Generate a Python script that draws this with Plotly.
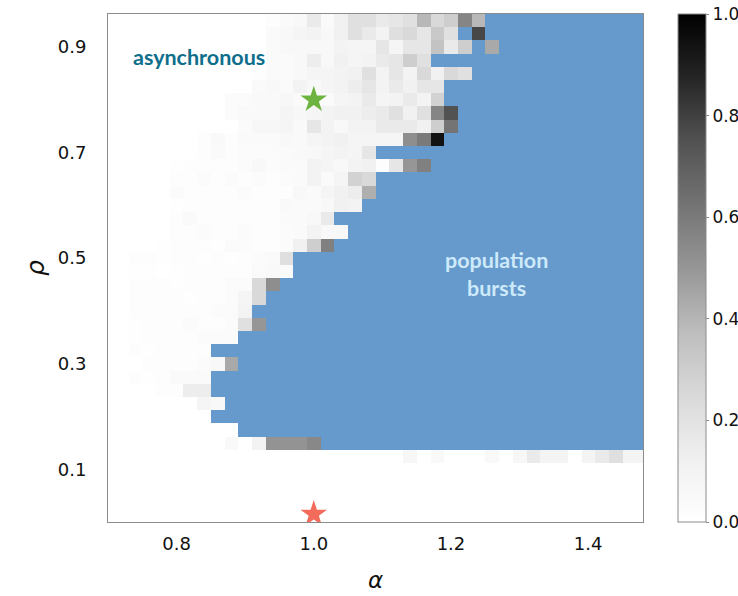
import plotly.graph_objects as go

B = None  # population-burst cell (shown in blue)

alpha = [0.70, 0.72, 0.74, 0.76, 0.78, 0.80, 0.82, 0.84, 0.86, 0.88,
         0.90, 0.92, 0.94, 0.96, 0.98, 1.00, 1.02, 1.04, 1.06, 1.08,
         1.10, 1.12, 1.14, 1.16, 1.18, 1.20, 1.22, 1.24, 1.26, 1.28,
         1.30, 1.32, 1.34, 1.36, 1.38, 1.40, 1.42, 1.44, 1.46, 1.48]

rho = [0.950, 0.925, 0.900, 0.875, 0.850, 0.825, 0.800, 0.775, 0.750, 0.725,
       0.700, 0.675, 0.650, 0.625, 0.600, 0.575, 0.550, 0.525, 0.500, 0.475,
       0.450, 0.425, 0.400, 0.375, 0.350, 0.325, 0.300, 0.275, 0.250, 0.225,
       0.200, 0.175, 0.150, 0.125]

# rows from top (rho = 0.95) to bottom (rho = 0.125); 40 columns each
sync = [
    [0]*12 + [0.02, 0.04, 0.06, 0.16, 0.04, 0.12, 0.21, 0.21, 0.16, 0.18, 0.21, 0.39, 0.25, 0.30, 0.56, 0.39] + [B]*12,
    [0]*12 + [0.04, 0.06, 0.08, 0.10, 0.06, 0.12, 0.21, 0.16, 0.10, 0.22, 0.25, 0.18, 0.32, 0.21, B, 0.78] + [B]*12,
    [0]*12 + [0.04, 0.06, 0.06, 0.06, 0.06, 0.10, 0.08, 0.08, 0.18, 0.08, 0.18, 0.18, 0.35, 0.16, 0.30, B, 0.44] + [B]*11,
    [0]*12 + [0.04, 0.04, 0.06, 0.14, 0.06, 0.12, 0.08, 0.10, 0.16, 0.18, 0.30, 0.21] + [B]*16,
    [0]*11 + [0.02, 0.04, 0.04, 0.06, 0.08, 0.08, 0.10, 0.12, 0.21, 0.10, 0.18, 0.10, 0.25, 0.12, 0.25, 0.21] + [B]*13,
    [0]*11 + [0.04, 0.06, 0.04, 0.10, 0.06, 0.08, 0.10, 0.14, 0.18, 0.10, 0.16, 0.12, 0.18, 0.18] + [B]*15,
    [0]*9 + [0.03, 0.03, 0.05, 0.05, 0.07, 0.04, 0.04, 0.04, 0.08, 0.10, 0.16, 0.08, 0.10, 0.16, 0.10, 0.28] + [B]*15,
    [0]*9 + [0.03, 0.05, 0.05, 0.05, 0.08, 0.07, 0.08, 0.10, 0.12, 0.12, 0.14, 0.16, 0.21, 0.12, 0.21, 0.56, 0.75] + [B]*14,
    [0]*10 + [0.03, 0.07, 0.07, 0.08, 0.05, 0.18, 0.10, 0.06, 0.10, 0.10, 0.16, 0.16, 0.16, 0.12, 0.30, 0.62] + [B]*14,
    [0]*7 + [0.02, 0.05, 0.02, 0.04, 0.04, 0.04, 0.06, 0.05, 0.08, 0.10, 0.12, 0.08, 0.08, 0.08, 0.08, 0.53, 0.60, 0.94] + [B]*15,
    [0]*7 + [0.02, 0.04, 0.02, 0.03, 0.03, 0.04, 0.04, 0.05, 0.06, 0.08, 0.10, 0.08, 0.18] + [B]*20,
    [0]*5 + [0.01, 0.02, 0.02, 0.02, 0.02, 0.03, 0.06, 0.03, 0.04, 0.04, 0.10, 0.08, 0.06, 0.10, 0.12, 0.02, 0.18, 0.50, 0.58] + [B]*16,
    [0]*5 + [0.02, 0.02, 0.03, 0.02, 0.03, 0.02, 0.03, 0.02, 0.03, 0.04, 0.10, 0.04, 0.08, 0.28, 0.25] + [B]*20,
    [0]*5 + [0.03, 0.02, 0.02, 0.02, 0.02, 0.03, 0.02, 0.02, 0.02, 0.06, 0.04, 0.08, 0.12, 0.14, 0.42] + [B]*20,
    [0]*5 + [0.01, 0.02, 0.02, 0.02, 0.02, 0.02, 0.02, 0.02, 0.05, 0.04, 0.04, 0.06, 0.12, 0.10] + [B]*21,
    [0]*5 + [0.02, 0.04, 0.02, 0.02, 0.02, 0.02, 0.02, 0.02, 0.04, 0.04, 0.06, 0.16] + [B]*23,
    [0]*5 + [0.02, 0.02, 0.03, 0.02, 0.02, 0.03, 0.02, 0.02, 0.03, 0.04, 0.10, 0.06, 0.06] + [B]*22,
    [0]*4 + [0.01, 0.02, 0.02, 0.02, 0.01, 0.03, 0.03, 0.02, 0.02, 0.03, 0.12, 0.30, 0.58] + [B]*23,
    [0]*2 + [0.02, 0.02, 0.01, 0.02, 0.02, 0.01, 0.02, 0.01, 0.02, 0.03, 0.04, 0.22] + [B]*26,
    [0]*2 + [0.01, 0.01, 0.00, 0.01, 0.02, 0.02, 0.02, 0.02, 0.02, 0.04, 0.05, 0.04] + [B]*26,
    [0]*2 + [0.02, 0.02, 0.02, 0.01, 0.02, 0.02, 0.02, 0.03, 0.03, 0.25, 0.53] + [B]*27,
    [0]*2 + [0.02, 0.02, 0.02, 0.02, 0.01, 0.02, 0.02, 0.03, 0.08, 0.25] + [B]*28,
    [0]*2 + [0.02, 0.02, 0.02, 0.02, 0.02, 0.02, 0.03, 0.04, 0.10] + [B]*29,
    [0]*2 + [0.01, 0.02, 0.02, 0.02, 0.03, 0.02, 0.02, 0.03, 0.21, 0.50] + [B]*28,
    [0]*2 + [0.01, 0.02, 0.02, 0.02, 0.02, 0.03, 0.03, 0.03] + [B]*30,
    [0]*2 + [0.02, 0.01, 0.02, 0.02, 0.02, 0.02] + [B]*32,
    [0]*3 + [0.02, 0.02, 0.02, 0.02, 0.03, 0.06, 0.44] + [B]*30,
    [0]*2 + [0.02, 0.01, 0.02, 0.04, 0.04, 0.04] + [B]*32,
    [0]*4 + [0.02, 0.02, 0.14, 0.14] + [B]*32,
    [0]*7 + [0.08, 0.06] + [B]*31,
    [0]*8 + [B]*32,
    [0]*10 + [B]*30,
    [0]*9 + [0.05, 0.00, 0.10, 0.51, 0.51, 0.51, 0.55] + [B]*24,
    [0]*22 + [0.07, 0.00, 0.05, 0.00, 0.00, 0.00, 0.05, 0.00, 0.07, 0.16, 0.09, 0.09, 0.00, 0.09, 0.16, 0.22, 0.09, 0.09],
]

star_alpha = [1.0, 1.0]
star_rho = [0.80, 0.015]
star_colors = ["#6db33f", "#f26b5b"]

cbar_ticks = [0.0, 0.2, 0.4, 0.6, 0.8, 1.0]
x_ticks = [0.8, 1.0, 1.2, 1.4]
y_ticks = [0.1, 0.3, 0.5, 0.7, 0.9]

for row in sync:
    assert len(row) == len(alpha)
assert len(sync) == len(rho)

# order ascending in rho for plotting
rho_up = list(reversed(rho))
z_gray = list(reversed(sync))
z_burst = [[1 if v is None else None for v in row] for row in z_gray]

BLUE = "#6699cc"
greys = [[0.0, "#ffffff"], [0.125, "#f0f0f0"], [0.25, "#d9d9d9"], [0.375, "#bdbdbd"],
         [0.5, "#969696"], [0.625, "#737373"], [0.75, "#525252"], [0.875, "#252525"],
         [1.0, "#000000"]]

fig = go.Figure()
fig.add_trace(go.Heatmap(
    x=alpha, y=rho_up, z=z_burst, zmin=0, zmax=1,
    colorscale=[[0, BLUE], [1, BLUE]], showscale=False, hoverinfo="skip"))
fig.add_trace(go.Heatmap(
    x=alpha, y=rho_up, z=z_gray, zmin=0, zmax=1, colorscale=greys,
    colorbar=dict(
        x=1.0654, xanchor="left", xpad=0, ypad=0, y=0.5, yanchor="middle",
        len=1.0, lenmode="fraction",
        thickness=28, outlinecolor="#8c8c8c", outlinewidth=1,
        tickvals=cbar_ticks, ticktext=[f"{t:.1f}" for t in cbar_ticks],
        ticks="outside", ticklen=3, tickcolor="#8c8c8c",
        tickfont=dict(family="DejaVu Sans", size=17, color="#111")),
))
fig.add_trace(go.Scatter(
    x=star_alpha, y=star_rho, mode="markers",
    marker=dict(symbol="star", size=20, color=star_colors, line=dict(width=0)),
    showlegend=False, hoverinfo="skip"))

fig.add_annotation(x=0.833, y=0.881, xref="x", yref="y", text="<b>asynchronous</b>",
                   showarrow=False, font=dict(family="Lato", size=21.5, color="#0e6e8c"))
fig.add_annotation(x=1.267, y=0.47, xref="x", yref="y", text="<b>population<br>bursts</b>",
                   showarrow=False, font=dict(family="Lato", size=21.5, color="#cdeafa"))

fig.add_annotation(x=0.5, y=0, xref="paper", yref="paper", text="<i>α</i>", showarrow=False,
                   yanchor="middle", yshift=-58,
                   font=dict(family="DejaVu Sans", size=23, color="#111"))
fig.add_annotation(x=0, y=0.5, xref="paper", yref="paper", text="<i>ρ</i>", showarrow=False,
                   xanchor="center", xshift=-73, textangle=-90,
                   font=dict(family="DejaVu Sans", size=25, color="#111"))

fig.update_xaxes(range=[0.70, 1.48], tickvals=x_ticks, ticktext=[f"{t:.1f}" for t in x_ticks],
                 showgrid=False, zeroline=False, showline=True, mirror=True,
                 linecolor="#8c8c8c", linewidth=1, ticks="outside", ticklen=5,
                 tickcolor="rgba(0,0,0,0)", tickfont=dict(family="DejaVu Sans", size=18, color="#111"))
fig.update_yaxes(range=[0.0, 0.9625], tickvals=y_ticks, ticktext=[f"{t:.1f}" for t in y_ticks],
                 showgrid=False, zeroline=False, showline=True, mirror=True,
                 linecolor="#8c8c8c", linewidth=1, ticks="outside", ticklen=17,
                 tickcolor="rgba(0,0,0,0)", tickfont=dict(family="DejaVu Sans", size=18, color="#111"))

fig.update_layout(width=738, height=596,
                  margin=dict(l=108, r=95, t=14, b=74, autoexpand=False),
                  paper_bgcolor="white", plot_bgcolor="white", showlegend=False)

fig.write_html("out.html")
